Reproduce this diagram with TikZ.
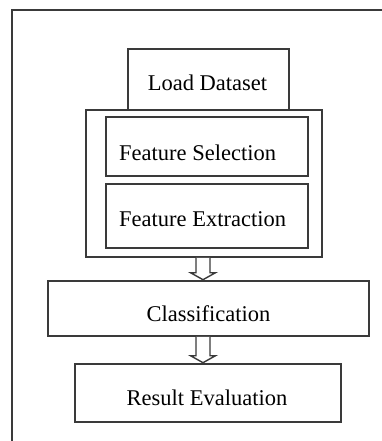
\documentclass[tikz,border=0pt]{standalone}
\usepackage{fontspec}
\setmainfont{Liberation Serif}
\usetikzlibrary{calc}
\definecolor{linegray}{HTML}{3A3A3A}
\begin{document}
\begin{tikzpicture}[x=1pt,y=-1pt,
  box/.style={draw=linegray, line width=1.6pt, inner sep=0pt, fill=white},
  lbl/.style={inner sep=0pt, font=\fontsize{22.5}{27}\selectfont},
  hollow/.style={draw=linegray, line width=1.4pt, fill=white, line join=miter}]
  \useasboundingbox (0,0) rectangle (382,441);

  % frame around the figure (only its top and left edges fall inside the page)
  \coordinate (fbl) at (12,441);
  \coordinate (ftl) at (12,10);
  \coordinate (ftr) at (382,10);
  \draw[linegray, line width=1.8pt] (fbl) -- (ftl) -- (ftr);

  % process boxes
  \node[box, minimum width=161pt, minimum height=61pt] (load) at (208.5,79.5) {};
  \node[box, minimum width=236pt, minimum height=147pt] (feat) at (204,183.5) {};
  \node[box, minimum width=202pt, minimum height=59pt] (sel) at (207,146.5) {};
  \node[box, minimum width=202pt, minimum height=64pt] (ext) at (207,216) {};
  \node[box, minimum width=321pt, minimum height=55pt] (cls) at (208.5,308.5) {};
  \node[box, minimum width=266pt, minimum height=58pt] (res) at (208,393) {};

  % box texts
  \node[lbl, anchor=base] (tload) at (207.5,90.7) {Load Dataset};
  \node[lbl, anchor=base west] (tsel) at (119,160) {Feature Selection};
  \node[lbl, anchor=base west] (text) at (119,226.7) {Feature Extraction};
  \node[lbl, anchor=base] (tcls) at (208.5,321) {Classification};
  \node[lbl, anchor=base] (tres) at (207,405) {Result Evaluation};

  % hollow block arrows between stages
  \newcommand\blockarrow[2]{%
    \path let \p1=(#1.south), \p2=(#2.north) in
      [hollow] (203pt-7pt,\y1) -- (203pt-7pt,\y2+7.5pt) -- (203pt-12.5pt,\y2+7.5pt)
      -- (203pt,\y2+0.5pt) -- (203pt+12.5pt,\y2+7.5pt) -- (203pt+7pt,\y2+7.5pt)
      -- (203pt+7pt,\y1);}
  \blockarrow{feat}{cls}
  \blockarrow{cls}{res}
\end{tikzpicture}
\end{document}
